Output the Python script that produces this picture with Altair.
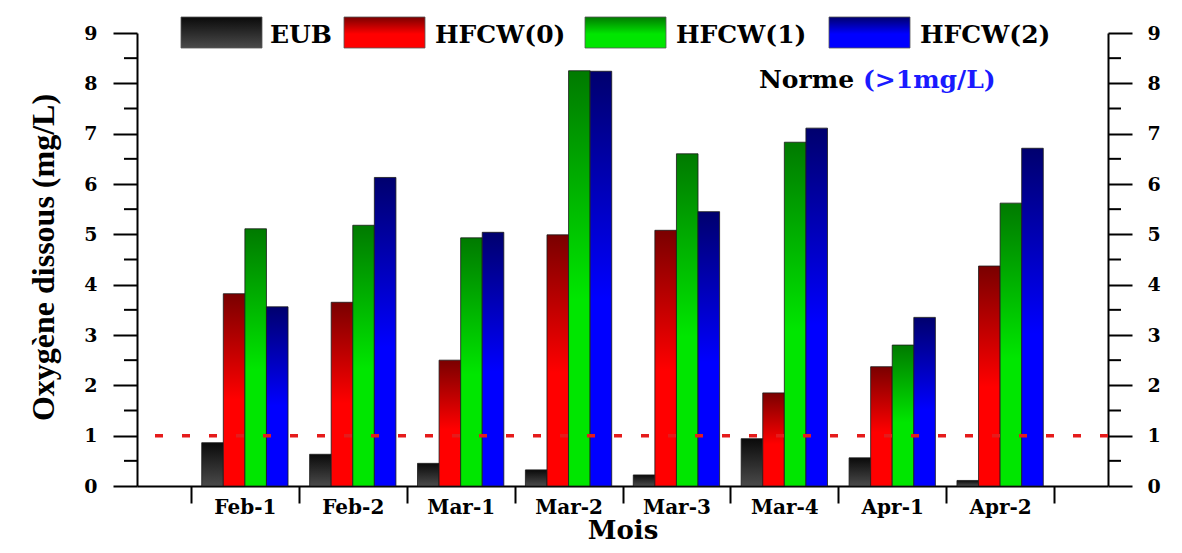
import altair as alt
import pandas as pd

# ---------------- data ----------------
months = ["Feb-1", "Feb-2", "Mar-1", "Mar-2", "Mar-3", "Mar-4", "Apr-1", "Apr-2"]
series = ["EUB", "HFCW(0)", "HFCW(1)", "HFCW(2)"]
eub = [0.86, 0.63, 0.45, 0.32, 0.22, 0.94, 0.56, 0.11]
hfcw0 = [3.82, 3.65, 2.50, 4.99, 5.08, 1.85, 2.37, 4.37]
hfcw1 = [5.11, 5.18, 4.93, 8.25, 6.60, 6.83, 2.80, 5.62]
hfcw2 = [3.56, 6.13, 5.04, 8.24, 5.45, 7.11, 3.35, 6.71]
norme = [1.0]
y_ticks = [0, 1, 2, 3, 4, 5, 6, 7, 8, 9]
minor_ticks = [0.5, 1.5, 2.5, 3.5, 4.5, 5.5, 6.5, 7.5, 8.5]

values_by_series = [eub, hfcw0, hfcw1, hfcw2]
rows = []
for s, vals in zip(series, values_by_series):
    for m, v in zip(months, vals):
        rows.append({"month": m, "series": s, "value": v})
df = pd.DataFrame(rows)

# ---------------- style ----------------
W, H = 971, 453
grad_colors = {
    "EUB": ("#0a0a0a", "#4a4a4a", 1.0),
    "HFCW(0)": ("#7a0000", "#ff0000", 0.55),
    "HFCW(1)": ("#007a00", "#00e600", 0.55),
    "HFCW(2)": ("#00006e", "#0000ff", 0.55),
}


def grad(s):
    top, bot, mid = grad_colors[s]
    stops = [{"offset": 0, "color": top}, {"offset": mid, "color": bot}]
    if mid < 1:
        stops.append({"offset": 1, "color": bot})
    return {"gradient": "linear", "x1": 0, "y1": 0, "x2": 0, "y2": 1, "stops": stops}


yscale = alt.Scale(domain=[0, 9], nice=False, zero=True)
xscale = alt.Scale(domain=months, paddingInner=0, paddingOuter=0.5)
xoscale = alt.Scale(domain=series, paddingInner=0, paddingOuter=0.5)

LBL_FONT = "DejaVu Serif"

left_axis = alt.Axis(
    orient="left", values=y_ticks, format="d", grid=False,
    tickSize=24, tickWidth=2, tickColor="black",
    domainColor="black", domainWidth=2,
    labelFont=LBL_FONT, labelFontWeight="bold", labelFontSize=19,
    labelColor="black", labelPadding=16, labelFlush=False,
    title="Oxygène dissous (mg/L)", titleFont="Liberation Serif",
    titleFontSize=32, titleFontWeight="bold", titleColor="black",
    titleX=-84, titleY=224, titleAngle=270, titleAlign="center",
    titleBaseline="alphabetic",
)
right_axis = alt.Axis(
    orient="right", values=y_ticks, format="d", grid=False,
    tickSize=24, tickWidth=2, tickColor="black",
    domainColor="black", domainWidth=2,
    labelFont=LBL_FONT, labelFontWeight="bold", labelFontSize=19,
    labelColor="black", labelPadding=15, labelFlush=False, title=None,
)
x_axis = alt.Axis(
    orient="bottom",
    tickBand="extent", tickSize=17, tickWidth=2, tickColor="black",
    domainColor="black", domainWidth=2, grid=False,
    labelAngle=0, labelPadding=10, labelBaseline="alphabetic",
    labelFont=LBL_FONT, labelFontWeight="bold", labelFontSize=20,
    labelColor="black",
    title="Mois", titleFont=LBL_FONT, titleFontSize=26, titleFontWeight="bold",
    titleColor="black", titleY=52, titleBaseline="alphabetic",
)

layers = []
for i, s in enumerate(series):
    layers.append(
        alt.Chart(df)
        .transform_filter(alt.datum.series == s)
        .mark_bar(fill=grad(s), stroke="#1a1a1a", strokeWidth=0.8)
        .encode(
            x=alt.X("month:N", scale=xscale, axis=x_axis, sort=months),
            xOffset=alt.XOffset("series:N", scale=xoscale, sort=series),
            y=alt.Y("value:Q", scale=yscale, axis=left_axis if i == 0 else None),
        )
    )

# threshold line (norme)
norme_df = pd.DataFrame({"v": norme})
layers.append(
    alt.Chart(norme_df)
    .mark_rule(color="#e51b1b", strokeWidth=3.5, strokeDash=[8, 19])
    .encode(y=alt.Y("v:Q", scale=yscale, axis=None))
)

# minor ticks, left and right, plus right axis
minor_df = pd.DataFrame({"v": minor_ticks})
layers.append(
    alt.Chart(minor_df)
    .mark_rule(color="black", strokeWidth=2)
    .encode(y=alt.Y("v:Q", scale=yscale, axis=right_axis), x=alt.value(-13), x2=alt.value(0))
)
layers.append(
    alt.Chart(minor_df)
    .mark_rule(color="black", strokeWidth=2)
    .encode(y=alt.Y("v:Q", scale=yscale, axis=None), x=alt.value(W), x2=alt.value(W + 13))
)

# manual legend
one = alt.Data(values=[{}])
sw_x = [44, 207, 448, 692]
tx_x = [133, 298, 539, 783]
for s, x0, tx in zip(series, sw_x, tx_x):
    layers.append(
        alt.Chart(one).mark_rect(fill=grad(s), stroke="#555555", strokeWidth=0.8).encode(
            x=alt.value(x0), x2=alt.value(x0 + 81), y=alt.value(-16), y2=alt.value(15)
        )
    )
    layers.append(
        alt.Chart(one).mark_text(
            text=s, font=LBL_FONT, fontSize=25, fontWeight="bold", color="black",
            align="left", baseline="alphabetic",
        ).encode(x=alt.value(tx), y=alt.value(10))
    )

# Norme annotation
layers.append(
    alt.Chart(one).mark_text(
        text="Norme", font=LBL_FONT, fontSize=25, fontWeight="bold", color="black",
        align="left", baseline="alphabetic",
    ).encode(x=alt.value(622), y=alt.value(55))
)
layers.append(
    alt.Chart(one).mark_text(
        text="(>1mg/L)", font=LBL_FONT, fontSize=25, fontWeight="bold", color="#1a1aff",
        align="left", baseline="alphabetic",
    ).encode(x=alt.value(726), y=alt.value(55))
)

chart = (
    alt.layer(*layers)
    .resolve_axis(y="independent", x="shared")
    .properties(
        width=W, height=H,
        autosize=alt.AutoSizeParams(type="none"),
        padding={"left": 129, "top": 25, "right": 66, "bottom": 59},
        background="white",
    )
    .configure_view(stroke=None)
)

chart.save("out.html", embed_options={"renderer": "svg", "actions": False})
